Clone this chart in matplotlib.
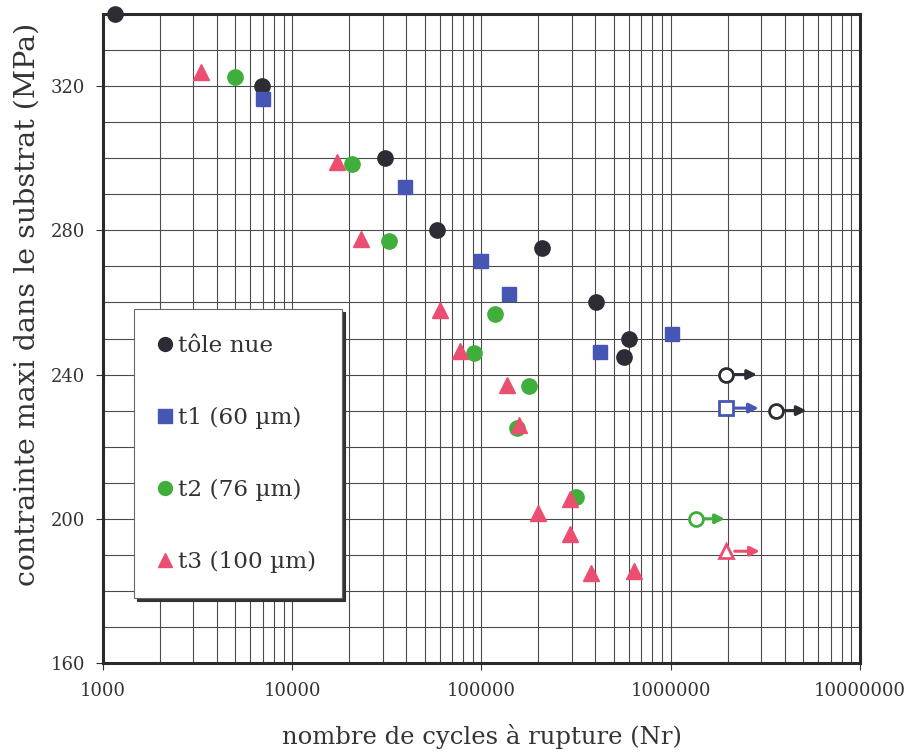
import matplotlib
matplotlib.use("Agg")
import matplotlib.pyplot as plt
from matplotlib.ticker import FixedLocator, NullFormatter, LogLocator
from matplotlib.lines import Line2D

plt.rcParams['font.family'] = ['DejaVu Serif']

# ---- data ----
nue_N = [6900, 30800, 58000, 209000, 403000, 601000, 566000]
nue_S = [320, 300, 280, 275, 260, 250, 245]
nue_run_N = [1970000, 3600000]
nue_run_S = [240, 230]

t1_N = [7030, 39400, 100000, 139000, 423000, 1010000]
t1_S = [316.5, 292, 271.5, 262.3, 246.3, 251.3]
t1_run_N = [1970000]
t1_run_S = [230.7]

t2_N = [4960, 20700, 32400, 118500, 90800, 179000, 155000, 316000]
t2_S = [322.5, 298.4, 277, 256.8, 246, 236.8, 225.2, 206]
t2_run_N = [1360000]
t2_run_S = [200]

t3_N = [3300, 17300, 23100, 60100, 76600, 137000, 158000, 200000, 294000, 294000, 379000, 638000]
t3_S = [324, 299, 277.5, 258, 246.5, 237, 226, 201.5, 205.5, 195.8, 185, 185.5]
t3_run_N = [1970000]
t3_run_S = [191]

corner_N = [1150]
corner_S = [340]

labels = ['tôle nue', 't1 (60 µm)', 't2 (76 µm)', 't3 (100 µm)']
colors = ['#2c2c34', '#4656b4', '#3fae3a', '#ea4f72']
markers = ['o', 's', 'o', '^']
msizes = [11, 10.5, 11, 11.5]
arrow_factor = [1.45, 1.48, 1.42, 1.5]

xticks = [1000, 10000, 100000, 1000000, 10000000]
yticks = [160, 200, 240, 280, 320]

fig = plt.figure(figsize=(9.07, 7.54), dpi=100)
ax = fig.add_axes([0.1136, 0.1207, 0.8345, 0.8607])
ax.set_xscale('log')
ax.set_xlim(1000, 10000000)
ax.set_ylim(160, 340)

ax.xaxis.set_major_locator(FixedLocator(xticks))
ax.set_xticklabels([str(v) for v in xticks])
ax.xaxis.set_minor_locator(LogLocator(base=10, subs=range(2, 10), numticks=20))
ax.xaxis.set_minor_formatter(NullFormatter())
ax.yaxis.set_major_locator(FixedLocator(yticks))
ax.yaxis.set_minor_locator(FixedLocator(list(range(160, 341, 10))))

ax.grid(True, which='both', color='#4a4a4a', linewidth=0.8)
ax.set_axisbelow(True)
ax.tick_params(which='major', direction='out', length=5, width=0.8, labelsize=13, colors='#333333', pad=8)
ax.tick_params(axis='x', which='major', pad=9)
ax.tick_params(which='minor', length=0)
for s in ax.spines.values():
    s.set_linewidth(2.2)
    s.set_color('#2a2a2a')

series = [(nue_N, nue_S, nue_run_N, nue_run_S),
          (t1_N, t1_S, t1_run_N, t1_run_S),
          (t2_N, t2_S, t2_run_N, t2_run_S),
          (t3_N, t3_S, t3_run_N, t3_run_S)]

handles = []
for i, (N, S, rN, rS) in enumerate(series):
    ax.plot(N, S, linestyle='none', marker=markers[i], markersize=msizes[i],
            color=colors[i], markeredgecolor=colors[i], zorder=4)
    for x, y in zip(rN, rS):
        ax.annotate('', xy=(x * arrow_factor[i], y), xytext=(x, y),
                    arrowprops=dict(arrowstyle='-|>', color=colors[i], lw=2.2,
                                    shrinkA=6, shrinkB=0, mutation_scale=14),
                    zorder=3)
    ax.plot(rN, rS, linestyle='none', marker=markers[i], markersize=msizes[i] - 1,
            markerfacecolor='white', markeredgecolor=colors[i], markeredgewidth=2, zorder=5)
    handles.append(Line2D([], [], linestyle='none', marker=markers[i], markersize=msizes[i] - 1,
                          color=colors[i]))

ax.plot(corner_N, corner_S, linestyle='none', marker='o', markersize=11,
        color='#2c2c34', clip_on=False, zorder=6)

leg = ax.legend(handles, labels, loc='upper left', bbox_to_anchor=(0.041, 0.545),
                fontsize=16.7, labelspacing=2.15, handlelength=0.5, handletextpad=0.3,
                borderpad=1.1, frameon=True, fancybox=False, shadow={'color': '#333333', 'alpha': 1},
                borderaxespad=0)
leg.get_frame().set_edgecolor('#666666')
leg.get_frame().set_linewidth(0.8)
for t in leg.get_texts():
    t.set_color('#333333')

ax.set_xlabel('nombre de cycles à rupture (Nr)', fontsize=17.5, color='#333333', labelpad=17)
ax.set_ylabel('contrainte maxi dans le substrat (MPa)', fontsize=20.5, color='#333333')
ax.yaxis.set_label_coords(-0.083, 0.552)

fig.savefig('out.png', dpi=100)
